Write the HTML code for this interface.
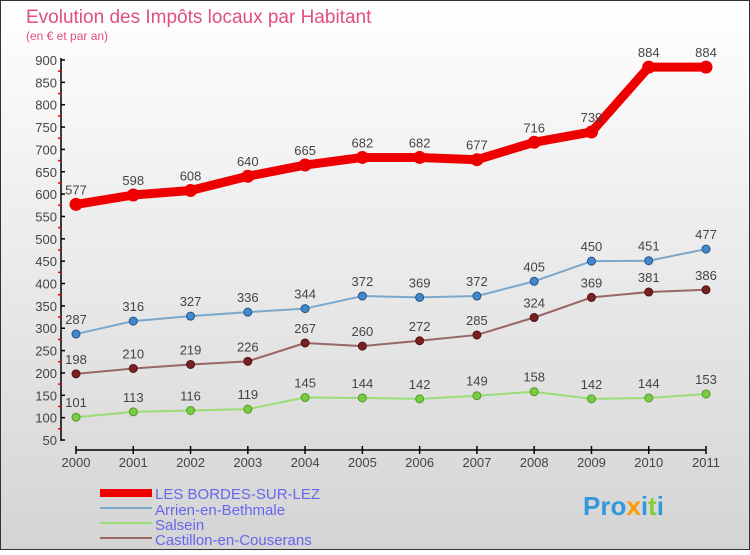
<!DOCTYPE html>
<html><head><meta charset="utf-8"><style>
body{margin:0}
#c{width:750px;height:550px;position:relative;font-family:"Liberation Sans",sans-serif}
</style></head><body>
<div id="c">
<svg id="s" width="750" height="550" xmlns="http://www.w3.org/2000/svg">
<defs><linearGradient id="bg" x1="0" y1="0" x2="0" y2="1"><stop offset="0" stop-color="#ffffff"/><stop offset="1" stop-color="#d4d4d4"/></linearGradient></defs>
<rect x="0.5" y="0.5" width="749" height="549" fill="url(#bg)" stroke="#333"/>
<text x="26" y="23" font-size="19" fill="#e0507a">Evolution des Impôts locaux par Habitant</text>
<text x="26" y="40" font-size="12" fill="#e0507a">(en € et par an)</text>
<g id="g"></g>
<g>
<rect x="100" y="489" width="52" height="8" fill="#ee0000"/>
<text x="155" y="499" font-size="15" fill="#6666ee">LES BORDES-SUR-LEZ</text>
<rect x="100" y="507" width="52" height="2" fill="#7aa8cc"/>
<text x="155" y="515" font-size="15" fill="#6666ee">Arrien-en-Bethmale</text>
<rect x="100" y="522" width="52" height="2" fill="#99dd77"/>
<text x="155" y="530" font-size="15" fill="#6666ee">Salsein</text>
<rect x="100" y="537" width="52" height="2" fill="#996666"/>
<text x="155" y="545" font-size="15" fill="#6666ee">Castillon-en-Couserans</text>
</g>
<text x="583" y="515" font-size="26" font-weight="bold" fill="#3399dd">Pro<tspan fill="#ff9900">x</tspan>i<tspan fill="#88cc33">t</tspan>i</text>
</svg>
</div>
<script>
const years=[2000,2001,2002,2003,2004,2005,2006,2007,2008,2009,2010,2011];
const bordes=[577,598,608,640,665,682,682,677,716,739,884,884];
const arrien=[287,316,327,336,344,372,369,372,405,450,451,477];
const salsein=[101,113,116,119,145,144,142,149,158,142,144,153];
const castillon=[198,210,219,226,267,260,272,285,324,369,381,386];
const yTicks=[50,100,150,200,250,300,350,400,450,500,550,600,650,700,750,800,850,900];
const NS="http://www.w3.org/2000/svg";
const g=document.getElementById('g');
function X(i){return 76+i*(630/11);}
function Y(v){return 60+(900-v)*(380/850);}
function el(t,a){const e=document.createElementNS(NS,t);for(const k in a)e.setAttribute(k,a[k]);g.appendChild(e);return e;}
let ax=el('line',{x1:61,y1:58,x2:61,y2:441,stroke:'#000','stroke-width':1.5});


yTicks.forEach(v=>{
 const t=el('line',{x1:61,x2:65,y1:Y(v),y2:Y(v),stroke:'#000','stroke-width':1.5});
 
 
 if(v<900){const m=el('line',{x1:58,x2:61,y1:Y(v+25),y2:Y(v+25),stroke:'#e00','stroke-width':1.5});
 
 }
 const l=el('text',{x:57,y:Y(v)+5,'font-size':13,fill:'#444','text-anchor':'end'});
 l.textContent=v;
 
 
});
let xa=el('line',{x1:76,y1:450,x2:706,y2:450,stroke:'#000','stroke-width':1.5});


years.forEach((y,i)=>{
 const t=el('line',{x1:X(i),x2:X(i),y1:446,y2:454,stroke:'#000','stroke-width':1.5});
 
 
 const l=el('text',{x:X(i),y:467,'font-size':13,fill:'#444','text-anchor':'middle'});
 l.textContent=y;
 
 
});
function series(data,name,color,w,r,dot,dotStroke){
 const p=el('polyline',{points:data.map((v,i)=>X(i)+','+Y(v)).join(' '),fill:'none',stroke:color,'stroke-width':w,'stroke-linejoin':'round'});
 
 
 data.forEach((v,i)=>{
  const c=el('circle',{cx:X(i),cy:Y(v),r:r,fill:dot,stroke:dotStroke,'stroke-width':1});
  
  
  const l=el('text',{x:X(i),y:Y(v)-10,'font-size':13,fill:'#444','text-anchor':'middle'});
  l.textContent=v;
  
  
 });
}
series(salsein,'salsein','#99dd77',2,4,'#77cc44','#559922');
series(castillon,'castillon','#996666',2,4,'#772222','#551111');
series(arrien,'arrien','#7aa8cc',2,4,'#4488cc','#225588');
series(bordes,'bordes','#ee0000',9,6,'#ee0000','#ee0000');
</script>
</body></html>
